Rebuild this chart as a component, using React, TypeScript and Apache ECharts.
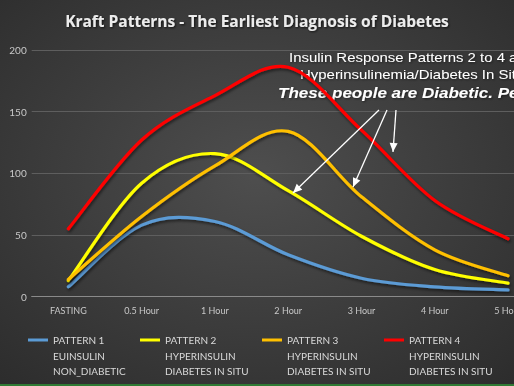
import React, { useEffect, useRef } from "react";
import * as echarts from "echarts";

const categories = ["FASTING", "0.5 Hour", "1 Hour", "2 Hour", "3 Hour", "4 Hour", "5 Hour"];
const pattern1 = [8, 58, 61, 34, 15, 8, 5.5];
const pattern2 = [13, 92, 116, 86, 49, 22, 11];
const pattern3 = [14, 65, 106, 134, 81, 38, 17];
const pattern4 = [55, 127, 163, 186, 135, 78, 47];
const seriesNames = ["PATTERN 1", "PATTERN 2", "PATTERN 3", "PATTERN 4"];
const seriesColors = ["#5b9bd5", "#ffff00", "#ffc000", "#ff0000"];
const legendSubLines = [
  ["EUINSULIN", "NON_DIABETIC"],
  ["HYPERINSULIN", "DIABETES IN SITU"],
  ["HYPERINSULIN", "DIABETES IN SITU"],
  ["HYPERINSULIN", "DIABETES IN SITU"],
];
const legendTextX = [53, 165, 287, 409];
const yTicks = { min: 0, max: 200, interval: 50 };
const titleText = "Kraft Patterns - The Earliest Diagnosis of Diabetes";
const noteLines = [
  "Insulin Response Patterns 2 to 4 are",
  "Hyperinsulinemia/Diabetes In Situ",
  "These people are Diabetic. Period.",
];
const arrows: [number, number, number, number][] = [
  [379, 110, 293, 193],
  [387, 110, 353, 187],
  [396, 110, 393, 152],
];

function arrowHead(x1: number, y1: number, x2: number, y2: number, len = 9, half = 4) {
  const dx = x2 - x1;
  const dy = y2 - y1;
  const d = Math.sqrt(dx * dx + dy * dy);
  const ux = dx / d;
  const uy = dy / d;
  const bx = x2 - ux * len;
  const by = y2 - uy * len;
  return [
    [x2, y2],
    [bx - uy * half, by + ux * half],
    [bx + uy * half, by - ux * half],
  ];
}

// Smoothed (Excel-like, Catmull-Rom) path through the points, placed by the chart's own scales
function smoothPath(pts: number[][]) {
  const n = pts.length;
  let d = `M${pts[0][0]},${pts[0][1]}`;
  for (let i = 0; i < n - 1; i++) {
    const p0 = pts[Math.max(i - 1, 0)];
    const p1 = pts[i];
    const p2 = pts[i + 1];
    const p3 = pts[Math.min(i + 2, n - 1)];
    const c1x = p1[0] + (p2[0] - p0[0]) / 6;
    const c1y = p1[1] + (p2[1] - p0[1]) / 6;
    const c2x = p2[0] - (p3[0] - p1[0]) / 6;
    const c2y = p2[1] - (p3[1] - p1[1]) / 6;
    d += ` C${c1x},${c1y} ${c2x},${c2y} ${p2[0]},${p2[1]}`;
  }
  return d;
}

export default function App() {
  const ref = useRef<HTMLDivElement>(null);
  useEffect(() => {
    if (!ref.current) return;
    const chart = echarts.init(ref.current, undefined, { renderer: "svg" });
    const data = [pattern1, pattern2, pattern3, pattern4];
    const font = "Lato, 'Open Sans', sans-serif";

    const graphics: any[] = [
      {
        type: "rect",
        left: 0,
        top: 384,
        shape: { width: 514, height: 2 },
        style: { fill: "#2f7a34" },
        silent: true,
      },
    ];
    legendSubLines.forEach((lines, i) => {
      lines.forEach((t, j) => {
        graphics.push({
          type: "text",
          x: legendTextX[i],
          y: 356 + j * 14.5,
          style: {
            text: t,
            fill: "#d9d9d9",
            font: `10px ${font}`,
            textVerticalAlign: "middle",
          },
        });
      });
    });
    noteLines.forEach((t, i) => {
      const bold = i === 2;
      graphics.push({
        type: "text",
        x: [289, 300, 278][i],
        y: [57, 74, 92][i],
        scaleX: bold ? 1.1 : 1.15,
        style: {
          text: t,
          fill: "#ffffff",
          font: bold
            ? "italic bold 15.5px 'Liberation Sans', Arial, sans-serif"
            : "13px 'Liberation Sans', Arial, sans-serif",
          textVerticalAlign: "middle",
          textShadowColor: "rgba(0,0,0,0.5)",
          textShadowBlur: 2,
          textShadowOffsetX: 1,
          textShadowOffsetY: 1,
        },
      });
    });
    arrows.forEach(([x1, y1, x2, y2]) => {
      graphics.push({
        type: "line",
        shape: { x1, y1, x2, y2 },
        style: { stroke: "#ffffff", lineWidth: 1.3 },
        z: 100,
      });
      graphics.push({
        type: "polygon",
        shape: { points: arrowHead(x1, y1, x2, y2) },
        style: { fill: "#ffffff" },
        z: 100,
      });
    });

    chart.setOption({
      animation: false,
      backgroundColor: {
        type: "radial",
        x: 0.5,
        y: 0.45,
        r: 0.75,
        colorStops: [
          { offset: 0, color: "#4e4e4e" },
          { offset: 1, color: "#2c2c2c" },
        ],
      },
      title: {
        text: titleText,
        left: "center",
        top: 8,
        textStyle: {
          color: "#ececec",
          fontFamily: "'Open Sans', sans-serif",
          fontWeight: "bold",
          fontSize: 15.5,
          textShadowColor: "rgba(0,0,0,0.7)",
          textShadowBlur: 2,
          textShadowOffsetX: 1,
          textShadowOffsetY: 1,
        },
      },
      legend: seriesNames.map((n, i) => ({
        data: [n],
        left: legendTextX[i] - 25,
        top: 335,
        padding: 0,
        itemWidth: 20,
        itemHeight: 3,
        icon: "rect",
        textStyle: { color: "#d9d9d9", fontSize: 10, fontFamily: font },
        selectedMode: false,
      })),
      grid: {
        left: 31.7,
        top: 50,
        width: 513,
        height: 246.7,
        containLabel: false,
        outerBoundsMode: "none",
      },
      xAxis: {
        type: "category",
        data: categories,
        boundaryGap: true,
        axisLine: { lineStyle: { color: "#8a8a8a", width: 1 } },
        axisTick: { show: false },
        axisLabel: { color: "#c8c8c8", fontSize: 9, fontFamily: font, margin: 9 },
      },
      yAxis: {
        type: "value",
        min: yTicks.min,
        max: yTicks.max,
        interval: yTicks.interval,
        axisLine: { show: false },
        axisTick: { show: false },
        splitLine: { lineStyle: { color: "#5e5e5e", width: 1 } },
        axisLabel: { color: "#c8c8c8", fontSize: 10, fontFamily: font, margin: 5 },
      },
      series: seriesNames.map((n, i) => ({
        name: n,
        type: "custom",
        color: seriesColors[i],
        itemStyle: { color: seriesColors[i] },
        data: data[i].map((v, k) => [k, v]),
        encode: { x: 0, y: 1 },
        z: 2 + i,
        renderItem: (params: any, api: any) => {
          if (params.dataIndex !== 0) return null;
          const pts = data[i].map((v, k) => api.coord([k, v]));
          return {
            type: "path",
            shape: { pathData: smoothPath(pts) },
            style: {
              fill: "none",
              stroke: seriesColors[i],
              lineWidth: 3.2,
              lineCap: "round",
              lineJoin: "round",
              shadowColor: "rgba(0,0,0,0.55)",
              shadowBlur: 3,
              shadowOffsetX: 1,
              shadowOffsetY: 2,
            },
          };
        },
      })),
      graphic: graphics,
    });
    return () => chart.dispose();
  }, []);
  return (
    <div
      ref={ref}
      style={{ position: "fixed", left: 0, top: 0, width: 514, height: 386, overflow: "hidden" }}
    />
  );
}
